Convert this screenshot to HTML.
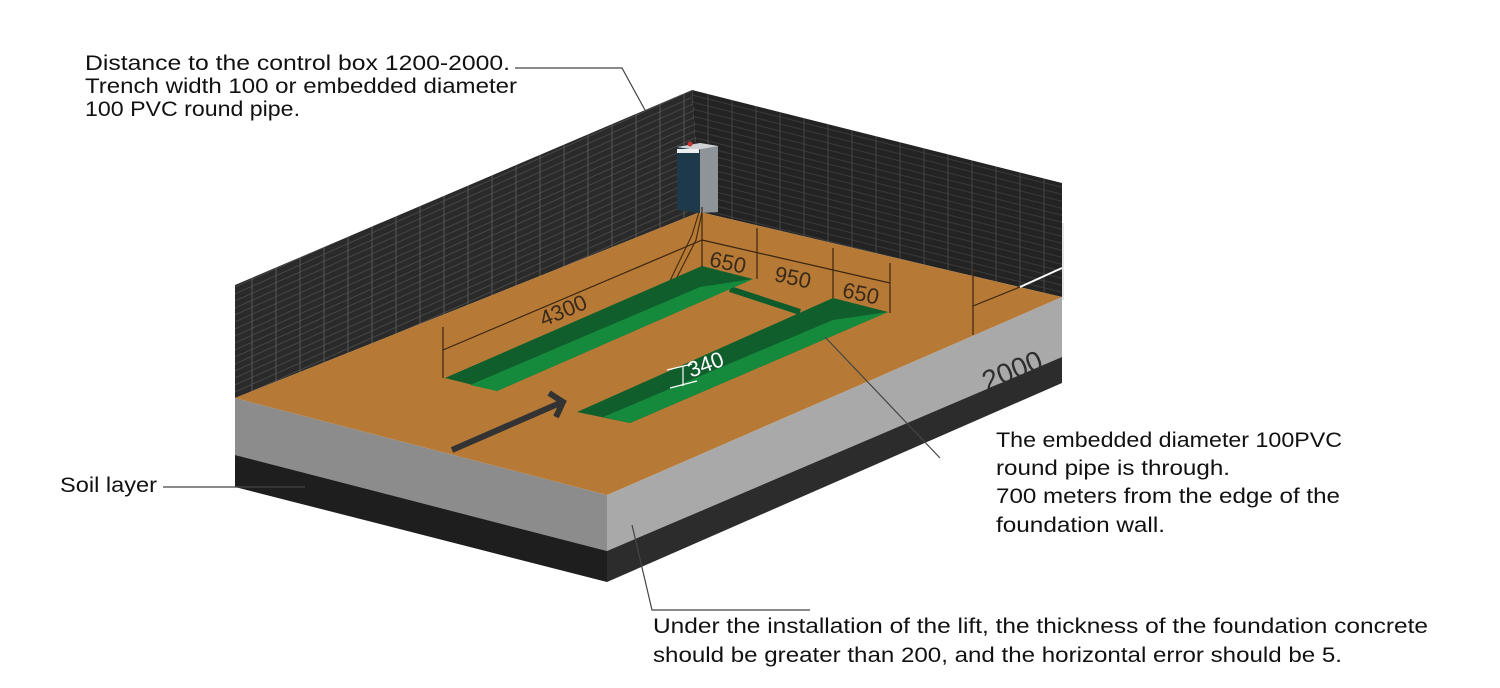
<!DOCTYPE html>
<html><head><meta charset="utf-8"><style>html,body{margin:0;padding:0;background:#fff}svg{display:block}</style></head>
<body>
<svg width="1500" height="688" viewBox="0 0 1500 688" xmlns="http://www.w3.org/2000/svg" font-family="Liberation Sans, DejaVu Sans, sans-serif">
<defs>
<pattern id="brickL" width="24" height="7" patternUnits="userSpaceOnUse" patternTransform="skewY(-24)">
<rect width="24" height="7" fill="#2a2a2a"/>
<line x1="0" y1="6.5" x2="24" y2="6.5" stroke="#474747" stroke-width="1"/>
<line x1="12" y1="0" x2="12" y2="7" stroke="#555" stroke-width="1"/>
</pattern>
<pattern id="brickR" width="24" height="7" patternUnits="userSpaceOnUse" patternTransform="skewY(14)">
<rect width="24" height="7" fill="#232323"/>
<line x1="0" y1="6.5" x2="24" y2="6.5" stroke="#3a3a3a" stroke-width="1"/>
<line x1="12" y1="0" x2="12" y2="7" stroke="#444" stroke-width="1"/>
</pattern>
</defs>
<rect width="1500" height="688" fill="#fff"/>
<polygon points="235,285 692,90 700,212 235,398" fill="url(#brickL)"/>
<polygon points="692,90 1062,183 1062,297 700,212" fill="url(#brickR)"/>
<polygon points="235,398 607,495 607,551 235,455" fill="#8c8c8c"/>
<polygon points="235,455 607,551 607,582 235,487" fill="#1e1e1e"/>
<polygon points="607,495 1062,297 1062,357 607,551" fill="#a9a9a9"/>
<polygon points="607,551 1062,357 1062,383 607,582" fill="#2c2c2c"/>
<polygon points="235,398 700,212 1062,297 607,495" fill="#b67a36"/>
<polygon points="700,143 718,146 718,212 700,213" fill="#8f9498"/>
<polygon points="677,147 700,143 700,213 677,210" fill="#1e3a4a"/>
<polygon points="677,147 700,143 718,146 696,150" fill="#cfd2d4"/>
<rect x="677" y="149" width="22" height="4" fill="#eee"/>
<circle cx="690" cy="144" r="2.5" fill="#c33"/>
<polyline points="699,212 692,235 668,285" fill="none" stroke="#4a2e10" stroke-width="1.2"/>
<polyline points="702,212 696,240 673,285" fill="none" stroke="#4a2e10" stroke-width="1.2"/>
<line x1="730" y1="289" x2="800" y2="312" stroke="#0d5a2a" stroke-width="6"/>
<polygon points="702,266 753,279 497,391 445,378" fill="#0f5e2c"/>
<polygon points="700,287 753,279 497,391 470,385" fill="#158a3c"/>
<polygon points="833,298 888,312 630,423 577,412" fill="#0f5e2c"/>
<polygon points="833,320 888,312 630,423 603,417" fill="#158a3c"/>
<g stroke="#3a2510" stroke-width="1.2" fill="none">
<line x1="443" y1="350" x2="702" y2="240"/>
<line x1="443" y1="327" x2="443" y2="378"/>
<line x1="702" y1="207" x2="702" y2="267"/>
<line x1="702" y1="240" x2="890" y2="283"/>
<line x1="757" y1="228" x2="757" y2="279"/>
<line x1="833" y1="248" x2="833" y2="298"/>
<line x1="890" y1="263" x2="890" y2="313"/>
<line x1="973" y1="267" x2="973" y2="335"/>
<line x1="973" y1="306" x2="1020" y2="287"/>
</g>
<line x1="1020" y1="287" x2="1062" y2="268" stroke="#fff" stroke-width="2"/>
<line x1="1063" y1="223" x2="1063" y2="300" stroke="#ddd" stroke-width="1.5"/>
<g fill="#3a2a1a" font-size="22">
<text x="563" y="318" text-anchor="middle" transform="rotate(-22.8 563 310)">4300</text>
<text x="728" y="270" text-anchor="middle" transform="rotate(12.3 728 262)">650</text>
<text x="793" y="285" text-anchor="middle" transform="rotate(12.3 793 277)">950</text>
<text x="861" y="301" text-anchor="middle" transform="rotate(12.3 861 293)">650</text>
</g>
<text x="705" y="372" fill="#fff" font-size="22" text-anchor="middle" transform="rotate(-20 705 363)">340</text>
<g stroke="#fff" stroke-width="1.2"><line x1="667" y1="370" x2="692" y2="364"/><line x1="670" y1="388" x2="697" y2="381"/><line x1="683" y1="366" x2="683" y2="386"/></g>
<text x="1012" y="380" fill="#2e2e2e" font-size="28" text-anchor="middle" transform="rotate(-22 1012 370)">2000</text>
<line x1="452" y1="450" x2="560" y2="403" stroke="#333" stroke-width="6"/>
<polyline points="549,393 563,402 556,417" fill="none" stroke="#333" stroke-width="6"/>
<g stroke="#444" stroke-width="1.2" fill="none">
<polyline points="515,68 622,68 645,110"/>
<line x1="163" y1="487" x2="305" y2="487"/>
<line x1="825" y1="337" x2="940" y2="458"/>
<polyline points="632,525 652,610 810,610"/>
</g>
<g fill="#111" font-size="21">
<text x="85" y="70" textLength="425" lengthAdjust="spacingAndGlyphs">Distance to the control box 1200-2000.</text>
<text x="85" y="93" textLength="432" lengthAdjust="spacingAndGlyphs">Trench width 100 or embedded diameter</text>
<text x="85" y="116" textLength="215" lengthAdjust="spacingAndGlyphs">100 PVC round pipe.</text>
<text x="60" y="492" textLength="97" lengthAdjust="spacingAndGlyphs">Soil layer</text>
<text x="996" y="447" textLength="346" lengthAdjust="spacingAndGlyphs">The embedded diameter 100PVC</text>
<text x="996" y="475" textLength="234" lengthAdjust="spacingAndGlyphs">round pipe is through.</text>
<text x="996" y="503" textLength="344" lengthAdjust="spacingAndGlyphs">700 meters from the edge of the</text>
<text x="996" y="532" textLength="169" lengthAdjust="spacingAndGlyphs">foundation wall.</text>
<text x="653" y="633" textLength="775" lengthAdjust="spacingAndGlyphs">Under the installation of the lift, the thickness of the foundation concrete</text>
<text x="653" y="662" textLength="689" lengthAdjust="spacingAndGlyphs">should be greater than 200, and the horizontal error should be 5.</text>
</g>
</svg>
</body></html>
